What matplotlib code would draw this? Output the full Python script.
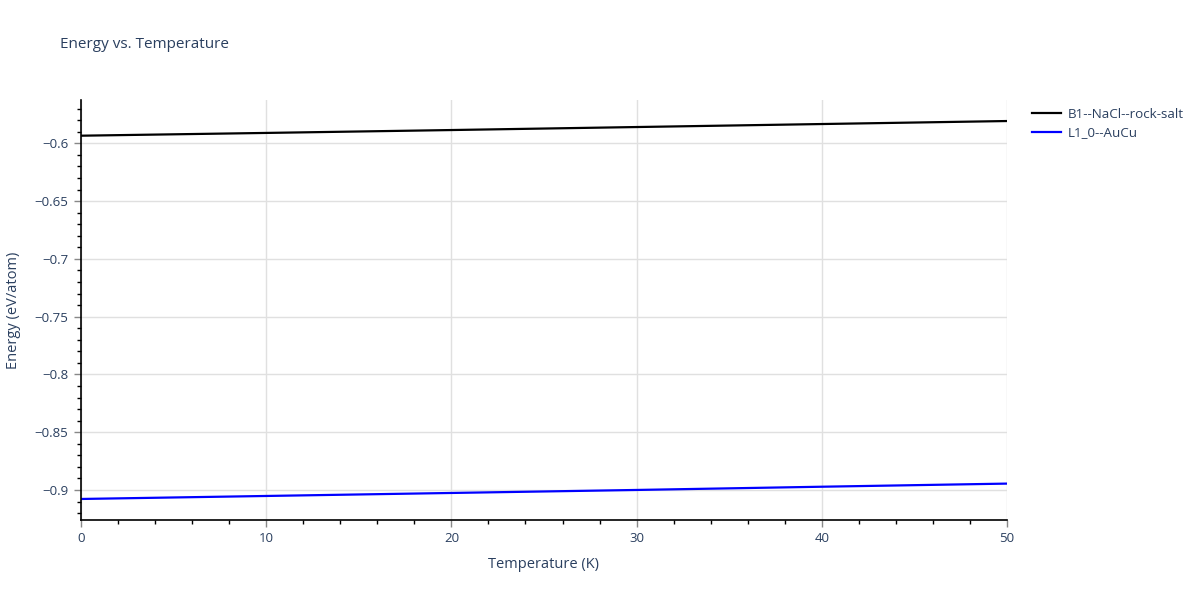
import matplotlib
matplotlib.use('Agg')
import matplotlib.pyplot as plt
from matplotlib.ticker import MultipleLocator, FuncFormatter

temperature = [0, 10, 20, 30, 40, 50]
energy_b1 = [-0.5934, -0.5910, -0.5885, -0.5859, -0.5833, -0.5807]
energy_l10 = [-0.9078, -0.9052, -0.9026, -0.9000, -0.8972, -0.8945]
labels = ['B1--NaCl--rock-salt', 'L1_0--AuCu']

txt = '#2a3f5f'
plt.rcParams['font.family'] = ['Open Sans', 'DejaVu Sans']

fig = plt.figure(figsize=(12, 6), dpi=100)
ax = fig.add_axes([81/1200, 80/600, 926/1200, 420/600])

l1, = ax.plot(temperature, energy_b1, color='black', lw=1.6)
l2, = ax.plot(temperature, energy_l10, color='blue', lw=1.6)

ax.set_xlim(0, 50)
ax.set_ylim(-0.926, -0.5625)
ax.xaxis.set_major_locator(MultipleLocator(10))
ax.xaxis.set_minor_locator(MultipleLocator(2))
ax.yaxis.set_major_locator(MultipleLocator(0.05))
ax.yaxis.set_minor_locator(MultipleLocator(0.01))

def fmt(v, pos):
    s = ('%.2f' % v).rstrip('0').rstrip('.')
    if s.startswith('-'):
        s = '\u2212' + s[1:]
    return s
ax.yaxis.set_major_formatter(FuncFormatter(fmt))
ax.xaxis.set_major_formatter(FuncFormatter(lambda v, p: '%d' % v))

ax.grid(True, which='major', color='#e0e0e0', lw=1)
ax.set_axisbelow(True)
for s in ['top', 'right']:
    ax.spines[s].set_visible(False)
for s in ['left', 'bottom']:
    ax.spines[s].set_color('black')
    ax.spines[s].set_linewidth(1.2)

ax.tick_params(which='major', direction='out', length=5, width=1, color='#888888',
               labelsize=9.5, labelcolor=txt, pad=4)
ax.tick_params(which='minor', direction='out', length=3, width=1, color='black')

ax.set_xlabel('Temperature (K)', fontsize=10.5, color=txt, labelpad=8)
ax.set_ylabel('Energy (eV/atom)', fontsize=10.5, color=txt, labelpad=10)
fig.text(60/1200, 1 - 45/600, 'Energy vs. Temperature', fontsize=11, color=txt,
         va='center', ha='left')

fig.legend([l1, l2], labels, loc='upper left', bbox_to_anchor=(1028/1200, 1 - 104/600),
           frameon=False, fontsize=9.6, labelcolor=txt, handlelength=2.2,
           handletextpad=0.45, labelspacing=0.4, borderaxespad=0, borderpad=0.3)

fig.savefig('out.png', dpi=100)
